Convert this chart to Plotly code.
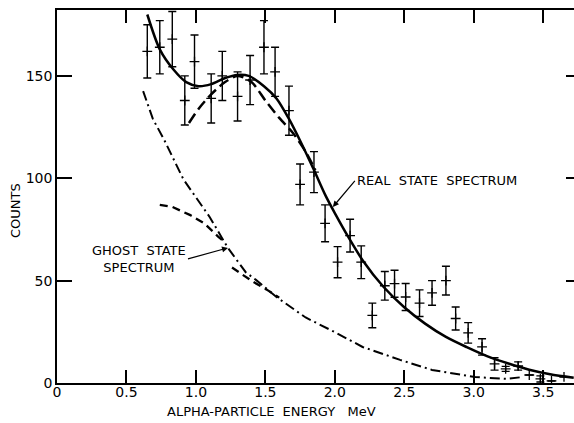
import plotly.graph_objects as go

# Measured alpha-particle spectrum (energy in MeV, counts, statistical error)
energy = [0.65, 0.74, 0.83, 0.92, 0.99, 1.11, 1.19, 1.30, 1.39, 1.49, 1.57, 1.67,
          1.75, 1.85, 1.93, 2.02, 2.11, 2.19, 2.27, 2.36, 2.43, 2.51, 2.61, 2.70,
          2.80, 2.87, 2.96, 3.06, 3.15, 3.23, 3.32, 3.40, 3.48, 3.56, 3.65]
counts = [162, 164, 168, 138, 157, 139, 150, 140, 148, 164, 152, 133,
          97, 103, 78, 59, 72, 59, 33, 47.5, 48.5, 42, 39, 44,
          50, 31.5, 24.5, 17.6, 9.3, 6.9, 8.3, 3.9, 2.0, 1.0, 3.0]
count_err = [13, 13, 13.5, 12, 13, 12, 12, 12, 12, 13, 12, 12,
             10, 10, 9, 7.6, 8, 8, 6, 7, 6.6, 6.6, 6.5, 6,
             7, 5.6, 5, 4, 3, 1.2, 2, 0, 1.5, 0, 0]

# Real state spectrum (solid)
real_x = [0.65, 0.74, 0.84, 0.93, 1.02, 1.11, 1.21, 1.30, 1.38, 1.49, 1.58, 1.67,
          1.76, 1.85, 1.93, 2.00, 2.10, 2.20, 2.35, 2.50, 2.65, 2.80, 2.95, 3.10,
          3.25, 3.40, 3.55, 3.72]
real_y = [180, 163, 153, 147, 145, 146, 149, 150.5, 150, 145, 139, 129,
          117, 104, 92, 83, 71, 60, 47, 37, 29, 22.5, 17.5, 13,
          9.5, 6.5, 4.3, 2.6]

# Real state component (dashed)
real_part_x = [0.95, 1.02, 1.11, 1.21, 1.30, 1.40, 1.50, 1.60, 1.70, 1.79, 1.86]
real_part_y = [127, 134, 141, 147, 150, 147, 138, 129.5, 122, 113, 104]

# Ghost state spectrum (dash-dot)
ghost_x = [0.62, 0.69, 0.77, 0.84, 0.91, 0.96, 1.10, 1.23, 1.36, 1.43, 1.58, 1.79,
           2.01, 2.20, 2.47, 2.70, 3.01, 3.24, 3.35]
ghost_y = [142.6, 129, 119, 109, 99.5, 94.6, 81, 66, 54, 50.5, 42, 32,
           24.5, 17.6, 11.3, 6.4, 2.9, 2.0, 2.9]

# Ghost state component (dashed, two pieces)
ghost_part_x = [0.74, 0.83, 0.96, 1.06, 1.16, 1.21, None, 1.26, 1.41, 1.51, 1.60]
ghost_part_y = [87, 86, 82, 78, 71.5, 68.6, None, 56.4, 49.5, 45.6, 41.7]

x_ticks = [0, 0.5, 1.0, 1.5, 2.0, 2.5, 3.0, 3.5]
x_tick_labels = ["0", "0.5", "1.0", "1.5", "2.0", "2.5", "3.0", "3.5"]
y_ticks = [0, 50, 100, 150]
y_tick_labels = ["0", "50", "100", "150"]

FONT = "DejaVu Sans"
INK = "black"

fig = go.Figure()

fig.add_trace(go.Scatter(
    x=ghost_x, y=ghost_y, mode="lines",
    line=dict(color=INK, width=2, dash="10px,4px,2px,4px"),
    hoverinfo="skip", showlegend=False))

fig.add_trace(go.Scatter(
    x=ghost_part_x, y=ghost_part_y, mode="lines", connectgaps=False,
    line=dict(color=INK, width=2.3, dash="8px,5px"),
    hoverinfo="skip", showlegend=False))

fig.add_trace(go.Scatter(
    x=real_part_x, y=real_part_y, mode="lines",
    line=dict(color=INK, width=2.5, dash="11px,5px", shape="spline", smoothing=0.8),
    hoverinfo="skip", showlegend=False))

fig.add_trace(go.Scatter(
    x=real_x, y=real_y, mode="lines",
    line=dict(color=INK, width=2.5, shape="spline", smoothing=0.8),
    yaxis="y2", hoverinfo="skip", showlegend=False))

fig.add_trace(go.Scatter(
    x=energy, y=counts, mode="markers",
    marker=dict(symbol="cross-thin", size=7, line=dict(color=INK, width=1.3)),
    error_y=dict(type="data", array=count_err, visible=True,
                 color=INK, thickness=1.4, width=4),
    showlegend=False))

fig.add_annotation(
    x=1.986, y=86, xref="x", yref="y",
    text="REAL  STATE  SPECTRUM", showarrow=True,
    ax=22, ay=-26, xanchor="left", yanchor="middle",
    arrowhead=2, arrowsize=1, arrowwidth=1.2, arrowcolor=INK,
    font=dict(family=FONT, size=13, color=INK))

fig.add_annotation(
    x=1.231, y=66, xref="x", yref="y",
    text="GHOST  STATE<br>SPECTRUM", showarrow=True, align="center",
    ax=-40, ay=11, xanchor="right", yanchor="middle",
    arrowhead=2, arrowsize=1, arrowwidth=1.2, arrowcolor=INK,
    font=dict(family=FONT, size=13, color=INK))

fig.add_annotation(
    x=0.414, y=0, xref="paper", yref="paper",
    text="ALPHA-PARTICLE  ENERGY   MeV", showarrow=False,
    xanchor="center", yanchor="top", yshift=-19,
    font=dict(family=FONT, size=13, color=INK))

fig.add_annotation(
    x=0, y=0.461, xref="paper", yref="paper",
    text="COUNTS", showarrow=False, textangle=-90,
    xanchor="center", yanchor="middle", xshift=-42,
    font=dict(family=FONT, size=13, color=INK))

fig.update_layout(
    width=574, height=423,
    margin=dict(l=57, r=0, t=10, b=40),
    paper_bgcolor="white", plot_bgcolor="white",
    font=dict(family=FONT, color=INK),
    xaxis=dict(range=[0, 3.722], showgrid=False, zeroline=False,
               showline=True, linecolor=INK, linewidth=1.6, mirror="ticks",
               ticks="inside", ticklen=13, tickwidth=1.6, tickcolor=INK,
               tickvals=x_ticks, ticktext=x_tick_labels, ticklabelstandoff=-5,
               tickfont=dict(family=FONT, size=14, color=INK)),
    yaxis=dict(range=[0, 182.2], showgrid=False, zeroline=False,
               showline=True, linecolor=INK, linewidth=1.6,
               ticks="inside", ticklen=15, tickwidth=1.6, tickcolor=INK,
               tickvals=y_ticks, ticktext=y_tick_labels,
               tickfont=dict(family=FONT, size=14, color=INK)),
    yaxis2=dict(matches="y", overlaying="y", side="right", showgrid=False,
                zeroline=False, showline=False, showticklabels=False,
                ticks="inside", ticklen=8, tickwidth=1.6, tickcolor=INK,
                tickvals=[50, 100, 150]),
)

fig.write_html("out.html")
